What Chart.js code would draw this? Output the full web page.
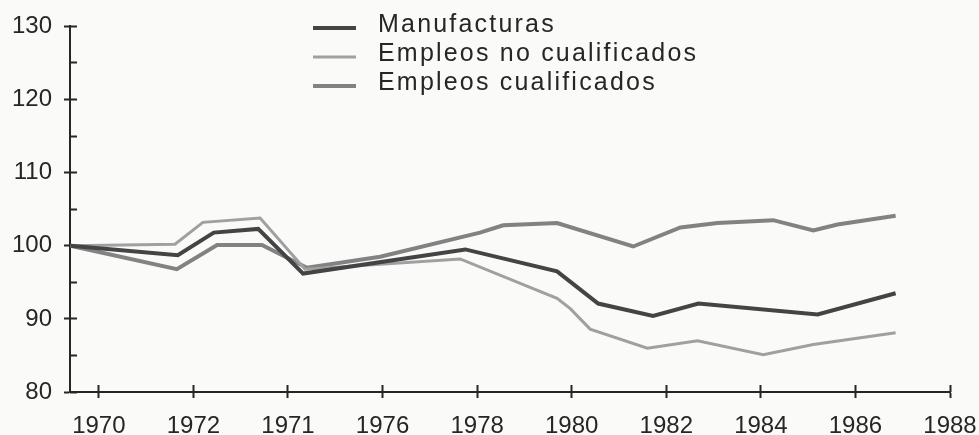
<!DOCTYPE html>
<html>
<head>
    <title>Manufacturas y empleos</title>
    <script src="https://cdn.jsdelivr.net/npm/chart.js"></script>
    <style>
        body { margin: 0; background: #fafaf9; }
        .chart-container { width: 979px; height: 435px; }
    </style>
</head>
<body>
    <div class="chart-container">
        <canvas id="empleoChart" width="979" height="435"></canvas>
    </div>

    <script>
        // axis ticks (labels copied as printed, including the odd "1971")
        const tickYears = [1970, 1972, 1974, 1976, 1978, 1980, 1982, 1984, 1986, 1988];
        const tickLabels = ['1970', '1972', '1971', '1976', '1978', '1980', '1982', '1984', '1986', '1988'];

        // series (x in axis years, y index 1970 = 100)
        const manufYears = [1969.4, 1971.67, 1972.43, 1973.37, 1974.32, 1977.75, 1979.69, 1980.56, 1981.72, 1982.68, 1985.2, 1986.85];
        const manufValues = [100, 98.7, 101.8, 102.3, 96.2, 99.5, 96.5, 92.1, 90.4, 92.1, 90.6, 93.5];

        const noCualYears = [1969.4, 1971.61, 1972.2, 1973.41, 1974.36, 1977.64, 1979.69, 1979.97, 1980.39, 1981.6, 1982.66, 1984.05, 1985.11, 1986.85];
        const noCualValues = [100, 100.2, 103.2, 103.8, 96.8, 98.2, 92.8, 91.4, 88.6, 86.0, 87.0, 85.1, 86.5, 88.1];

        const cualYears = [1969.4, 1971.65, 1972.5, 1973.45, 1974.4, 1975.95, 1978.06, 1978.55, 1979.69, 1981.3, 1982.3, 1983.08, 1984.26, 1985.11, 1985.62, 1986.85];
        const cualValues = [100, 96.8, 100.1, 100.1, 97.0, 98.5, 101.8, 102.8, 103.1, 99.9, 102.5, 103.1, 103.5, 102.1, 102.9, 104.1];

        const toPoints = (xs, ys) => xs.map((x, i) => ({ x: x, y: ys[i] }));

        const inkColor = '#262626';
        const labelFont = { family: '"Liberation Sans", Arial, sans-serif', size: 24 };
        const setTicks = scale => { scale.ticks = tickYears.map(v => ({ value: v })); };

        // legend drawn in the plot, stacked like the printed one
        const legendPlugin = {
            id: 'stackedLegend',
            afterDraw(chart) {
                const ctx = chart.ctx;
                ctx.save();
                ctx.font = '25px "Liberation Sans", Arial, sans-serif';
                ctx.letterSpacing = '2.2px';
                ctx.textBaseline = 'middle';
                ctx.fillStyle = inkColor;
                chart.data.datasets.forEach((ds, i) => {
                    const y = 25 + i * 29;
                    ctx.strokeStyle = ds.borderColor;
                    ctx.lineWidth = ds.borderWidth;
                    ctx.beginPath();
                    ctx.moveTo(313, y + 3);
                    ctx.lineTo(356, y + 3);
                    ctx.stroke();
                    ctx.fillText(ds.label, 378, y);
                });
                ctx.restore();
            }
        };

        const ctx = document.getElementById('empleoChart').getContext('2d');
        const chart = new Chart(ctx, {
            type: 'line',
            data: {
                datasets: [{
                    label: 'Manufacturas',
                    data: toPoints(manufYears, manufValues),
                    borderColor: '#444444',
                    borderWidth: 4
                }, {
                    label: 'Empleos no cualificados',
                    data: toPoints(noCualYears, noCualValues),
                    borderColor: '#a0a0a0',
                    borderWidth: 3
                }, {
                    label: 'Empleos cualificados',
                    data: toPoints(cualYears, cualValues),
                    borderColor: '#828282',
                    borderWidth: 4
                }]
            },
            options: {
                responsive: false,
                devicePixelRatio: 1,
                animation: false,
                elements: { point: { radius: 0 }, line: { tension: 0 } },
                layout: { padding: { top: 24, right: 29, left: 0, bottom: 0 } },
                plugins: { legend: { display: false }, tooltip: { enabled: false } },
                scales: {
                    x: {
                        type: 'linear', position: 'bottom', weight: 1,
                        min: 1969.39, max: 1988,
                        afterBuildTicks: setTicks,
                        afterFit: s => { s.height = 43; s.paddingLeft = 0; s.paddingRight = 0; },
                        ticks: {
                            callback: (v, i) => tickLabels[i],
                            font: labelFont, color: inkColor, padding: 14,
                            maxRotation: 0, autoSkip: false
                        },
                        grid: { drawOnChartArea: false, tickLength: 6, tickWidth: 2, tickColor: inkColor },
                        border: { color: inkColor, width: 2 }
                    },
                    xIn: {
                        type: 'linear', position: 'bottom', weight: 0,
                        min: 1969.39, max: 1988,
                        afterBuildTicks: setTicks,
                        afterFit: s => { s.height = 0; s.paddingLeft = 0; s.paddingRight = 0; },
                        ticks: { display: false },
                        grid: { drawOnChartArea: false, tickLength: -7, tickWidth: 2, tickColor: inkColor },
                        border: { display: false }
                    },
                    y: {
                        position: 'left', weight: 1,
                        min: 80, max: 130,
                        afterFit: s => { s.width = 70; },
                        ticks: { stepSize: 10, font: labelFont, color: inkColor, padding: 12 },
                        grid: { drawOnChartArea: false, tickLength: 6, tickWidth: 2, tickColor: inkColor },
                        border: { color: inkColor, width: 2 }
                    },
                    yIn: {
                        position: 'left', weight: 0,
                        min: 80, max: 130,
                        afterFit: s => { s.width = 0; },
                        ticks: { stepSize: 5, display: false },
                        grid: { drawOnChartArea: false, tickLength: -7, tickWidth: 2, tickColor: inkColor },
                        border: { display: false }
                    }
                }
            },
            plugins: [legendPlugin]
        });
    </script>
</body>
</html>
